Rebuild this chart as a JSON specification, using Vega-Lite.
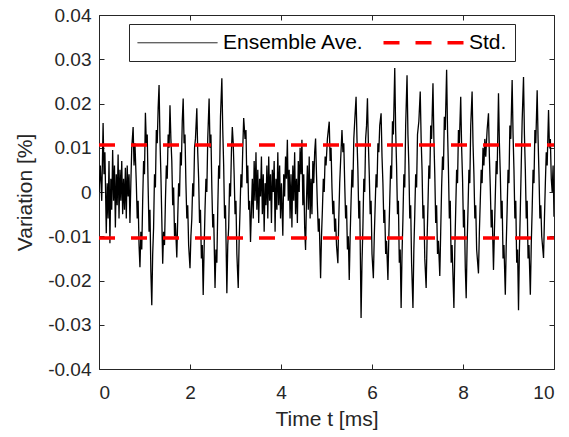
{
"$schema": "https://vega.github.io/schema/vega-lite/v6.json",
"width": 455, "height": 354,
"autosize": {"type": "none"},
"padding": {"left": 99, "top": 15, "right": 15, "bottom": 68},
"background": "white",
"config": {
  "font": "Liberation Sans",
  "view": {"stroke": null},
  "axis": {"grid": false, "labelFont": "Liberation Sans", "labelFontSize": 19, "labelColor": "#262626", "titleFont": "Liberation Sans", "titleFontSize": 21, "titleFontWeight": "normal", "titleColor": "#262626", "domainColor": "#262626", "tickColor": "#262626", "tickSize": -5, "domainWidth": 1, "tickWidth": 1}
},
"datasets": {
"ave": [
{"t":0.00,"v":0.000},{"t":0.03,"v":0.006},{"t":0.06,"v":-0.002},{"t":0.09,"v":0.0156},{"t":0.11,"v":0.004},{"t":0.13,"v":0.009},{"t":0.16,"v":-0.0093},{"t":0.18,"v":0.002},{"t":0.20,"v":-0.006},{"t":0.22,"v":0.007},{"t":0.24,"v":-0.0116},{"t":0.26,"v":0.003},{"t":0.28,"v":-0.004},{"t":0.30,"v":0.0095},{"t":0.32,"v":-0.002},{"t":0.34,"v":0.006},{"t":0.36,"v":-0.008},{"t":0.38,"v":0.004},{"t":0.40,"v":-0.003},{"t":0.42,"v":0.0085},{"t":0.44,"v":-0.006},{"t":0.46,"v":0.005},{"t":0.48,"v":-0.002},{"t":0.50,"v":0.007},{"t":0.52,"v":-0.005},{"t":0.54,"v":0.003},{"t":0.56,"v":-0.004},{"t":0.58,"v":0.0055},{"t":0.60,"v":-0.006},{"t":0.62,"v":0.006},{"t":0.64,"v":-0.001},{"t":0.66,"v":0.004},{"t":0.68,"v":-0.007},{"t":0.70,"v":0.002},{"t":0.72,"v":0.010},{"t":0.75,"v":0.0147},{"t":0.77,"v":0.006},{"t":0.79,"v":0.011},{"t":0.82,"v":0.002},{"t":0.84,"v":-0.006},{"t":0.86,"v":-0.002},{"t":0.88,"v":-0.012},{"t":0.90,"v":-0.017},{"t":0.92,"v":-0.009},{"t":0.94,"v":-0.013},{"t":0.96,"v":-0.002},{"t":0.98,"v":0.007},{"t":1.00,"v":0.004},{"t":1.02,"v":0.0179},{"t":1.04,"v":0.011},{"t":1.06,"v":0.013},{"t":1.08,"v":0.001},{"t":1.10,"v":-0.009},{"t":1.12,"v":-0.004},{"t":1.14,"v":-0.018},{"t":1.16,"v":-0.0256},{"t":1.18,"v":-0.014},{"t":1.20,"v":-0.008},{"t":1.22,"v":0.004},{"t":1.24,"v":0.001},{"t":1.26,"v":0.014},{"t":1.28,"v":0.011},{"t":1.30,"v":0.019},{"t":1.32,"v":0.0242},{"t":1.34,"v":0.012},{"t":1.36,"v":0.004},{"t":1.38,"v":-0.006},{"t":1.40,"v":-0.0162},{"t":1.42,"v":-0.009},{"t":1.44,"v":-0.012},{"t":1.46,"v":-0.002},{"t":1.48,"v":0.006},{"t":1.50,"v":0.003},{"t":1.52,"v":0.013},{"t":1.54,"v":0.010},{"t":1.56,"v":0.0196},{"t":1.58,"v":0.012},{"t":1.60,"v":0.007},{"t":1.62,"v":-0.003},{"t":1.64,"v":0.001},{"t":1.66,"v":-0.010},{"t":1.68,"v":-0.007},{"t":1.71,"v":-0.0148},{"t":1.73,"v":-0.006},{"t":1.75,"v":0.002},{"t":1.77,"v":-0.001},{"t":1.79,"v":0.009},{"t":1.81,"v":0.006},{"t":1.83,"v":0.016},{"t":1.85,"v":0.0211},{"t":1.87,"v":0.011},{"t":1.89,"v":0.013},{"t":1.91,"v":0.002},{"t":1.93,"v":-0.006},{"t":1.95,"v":-0.003},{"t":1.97,"v":-0.012},{"t":2.00,"v":-0.0172},{"t":2.02,"v":-0.010},{"t":2.04,"v":-0.006},{"t":2.06,"v":0.002},{"t":2.08,"v":-0.001},{"t":2.10,"v":0.010},{"t":2.12,"v":0.012},{"t":2.15,"v":0.0189},{"t":2.17,"v":0.009},{"t":2.19,"v":0.003},{"t":2.21,"v":-0.007},{"t":2.23,"v":-0.004},{"t":2.25,"v":-0.015},{"t":2.27,"v":-0.012},{"t":2.29,"v":-0.0233},{"t":2.31,"v":-0.013},{"t":2.33,"v":-0.004},{"t":2.35,"v":0.003},{"t":2.37,"v":0.000},{"t":2.39,"v":0.012},{"t":2.42,"v":0.0211},{"t":2.44,"v":0.010},{"t":2.46,"v":0.013},{"t":2.48,"v":0.001},{"t":2.50,"v":-0.008},{"t":2.52,"v":-0.005},{"t":2.55,"v":-0.0217},{"t":2.57,"v":-0.013},{"t":2.59,"v":-0.016},{"t":2.61,"v":-0.004},{"t":2.63,"v":0.006},{"t":2.65,"v":0.003},{"t":2.67,"v":0.017},{"t":2.70,"v":0.0257},{"t":2.72,"v":0.014},{"t":2.74,"v":0.006},{"t":2.76,"v":-0.006},{"t":2.78,"v":-0.003},{"t":2.81,"v":-0.0229},{"t":2.83,"v":-0.012},{"t":2.85,"v":-0.008},{"t":2.87,"v":0.002},{"t":2.89,"v":-0.001},{"t":2.91,"v":0.009},{"t":2.93,"v":0.0147},{"t":2.95,"v":0.011},{"t":2.97,"v":0.004},{"t":2.99,"v":-0.005},{"t":3.01,"v":-0.002},{"t":3.03,"v":-0.014},{"t":3.06,"v":-0.0217},{"t":3.08,"v":-0.011},{"t":3.10,"v":-0.004},{"t":3.12,"v":0.004},{"t":3.14,"v":0.001},{"t":3.16,"v":0.010},{"t":3.18,"v":0.0167},{"t":3.21,"v":0.012},{"t":3.23,"v":0.014},{"t":3.25,"v":0.002},{"t":3.27,"v":0.006},{"t":3.29,"v":-0.004},{"t":3.31,"v":-0.002},{"t":3.33,"v":-0.0113},{"t":3.35,"v":-0.004},{"t":3.37,"v":0.003},{"t":3.39,"v":-0.006},{"t":3.41,"v":0.007},{"t":3.43,"v":-0.002},{"t":3.45,"v":0.009},{"t":3.47,"v":-0.004},{"t":3.49,"v":0.005},{"t":3.51,"v":-0.007},{"t":3.53,"v":0.003},{"t":3.55,"v":-0.001},{"t":3.57,"v":0.008},{"t":3.59,"v":-0.005},{"t":3.61,"v":0.004},{"t":3.63,"v":-0.009},{"t":3.65,"v":0.002},{"t":3.67,"v":-0.003},{"t":3.69,"v":0.006},{"t":3.71,"v":-0.006},{"t":3.73,"v":0.008},{"t":3.75,"v":-0.002},{"t":3.77,"v":0.004},{"t":3.79,"v":-0.007},{"t":3.81,"v":0.005},{"t":3.83,"v":0.000},{"t":3.85,"v":0.007},{"t":3.87,"v":-0.009},{"t":3.89,"v":0.003},{"t":3.91,"v":-0.004},{"t":3.93,"v":0.009},{"t":3.95,"v":-0.003},{"t":3.97,"v":0.006},{"t":3.99,"v":-0.006},{"t":4.01,"v":0.002},{"t":4.04,"v":-0.0099},{"t":4.06,"v":0.004},{"t":4.08,"v":-0.001},{"t":4.10,"v":0.008},{"t":4.12,"v":0.003},{"t":4.14,"v":0.0118},{"t":4.16,"v":-0.002},{"t":4.18,"v":0.005},{"t":4.20,"v":-0.006},{"t":4.22,"v":0.004},{"t":4.24,"v":-0.008},{"t":4.26,"v":0.006},{"t":4.28,"v":-0.002},{"t":4.30,"v":0.009},{"t":4.32,"v":-0.005},{"t":4.34,"v":0.003},{"t":4.36,"v":-0.007},{"t":4.38,"v":0.007},{"t":4.40,"v":0.000},{"t":4.42,"v":0.010},{"t":4.44,"v":0.004},{"t":4.46,"v":0.0118},{"t":4.48,"v":-0.003},{"t":4.50,"v":0.004},{"t":4.52,"v":-0.008},{"t":4.54,"v":-0.0131},{"t":4.56,"v":-0.002},{"t":4.58,"v":0.006},{"t":4.60,"v":-0.004},{"t":4.62,"v":0.008},{"t":4.64,"v":-0.006},{"t":4.66,"v":0.003},{"t":4.68,"v":-0.005},{"t":4.70,"v":0.007},{"t":4.72,"v":0.002},{"t":4.74,"v":0.009},{"t":4.76,"v":0.0121},{"t":4.78,"v":0.004},{"t":4.80,"v":-0.003},{"t":4.82,"v":-0.009},{"t":4.84,"v":-0.006},{"t":4.87,"v":-0.0195},{"t":4.89,"v":-0.010},{"t":4.91,"v":-0.004},{"t":4.93,"v":0.003},{"t":4.95,"v":0.000},{"t":4.97,"v":0.008},{"t":4.99,"v":0.006},{"t":5.02,"v":0.012},{"t":5.06,"v":0.0159},{"t":5.08,"v":0.007},{"t":5.10,"v":0.010},{"t":5.12,"v":0.001},{"t":5.14,"v":-0.005},{"t":5.16,"v":-0.002},{"t":5.18,"v":-0.009},{"t":5.20,"v":-0.006},{"t":5.22,"v":-0.012},{"t":5.25,"v":-0.0161},{"t":5.27,"v":-0.006},{"t":5.29,"v":0.002},{"t":5.31,"v":0.007},{"t":5.34,"v":0.014},{"t":5.36,"v":0.009},{"t":5.38,"v":0.011},{"t":5.40,"v":0.002},{"t":5.42,"v":-0.006},{"t":5.44,"v":-0.003},{"t":5.46,"v":-0.013},{"t":5.48,"v":-0.010},{"t":5.50,"v":-0.0199},{"t":5.52,"v":-0.010},{"t":5.54,"v":-0.002},{"t":5.56,"v":0.005},{"t":5.58,"v":0.001},{"t":5.60,"v":0.012},{"t":5.62,"v":0.016},{"t":5.65,"v":0.0215},{"t":5.67,"v":0.012},{"t":5.69,"v":0.005},{"t":5.71,"v":-0.006},{"t":5.73,"v":-0.002},{"t":5.76,"v":-0.0285},{"t":5.78,"v":-0.016},{"t":5.80,"v":-0.008},{"t":5.82,"v":0.003},{"t":5.84,"v":0.000},{"t":5.86,"v":0.012},{"t":5.88,"v":0.015},{"t":5.90,"v":0.0212},{"t":5.92,"v":0.011},{"t":5.94,"v":0.004},{"t":5.96,"v":-0.005},{"t":5.98,"v":-0.002},{"t":6.00,"v":-0.014},{"t":6.03,"v":-0.0195},{"t":6.05,"v":-0.010},{"t":6.07,"v":-0.003},{"t":6.09,"v":0.004},{"t":6.11,"v":0.001},{"t":6.13,"v":0.011},{"t":6.15,"v":0.009},{"t":6.17,"v":0.015},{"t":6.20,"v":0.0178},{"t":6.22,"v":0.008},{"t":6.24,"v":0.002},{"t":6.26,"v":-0.007},{"t":6.28,"v":-0.004},{"t":6.30,"v":-0.014},{"t":6.32,"v":-0.011},{"t":6.35,"v":-0.0199},{"t":6.37,"v":-0.010},{"t":6.39,"v":-0.002},{"t":6.41,"v":0.006},{"t":6.43,"v":0.003},{"t":6.45,"v":0.016},{"t":6.47,"v":0.013},{"t":6.50,"v":0.028},{"t":6.52,"v":0.014},{"t":6.54,"v":0.006},{"t":6.56,"v":-0.005},{"t":6.58,"v":-0.002},{"t":6.60,"v":-0.016},{"t":6.62,"v":-0.013},{"t":6.64,"v":-0.0262},{"t":6.66,"v":-0.014},{"t":6.68,"v":-0.006},{"t":6.70,"v":0.004},{"t":6.72,"v":0.001},{"t":6.74,"v":0.015},{"t":6.77,"v":0.0264},{"t":6.79,"v":0.013},{"t":6.81,"v":0.006},{"t":6.83,"v":-0.006},{"t":6.85,"v":-0.003},{"t":6.87,"v":-0.016},{"t":6.90,"v":-0.0262},{"t":6.92,"v":-0.013},{"t":6.94,"v":-0.005},{"t":6.96,"v":0.004},{"t":6.98,"v":0.001},{"t":7.00,"v":0.013},{"t":7.03,"v":0.016},{"t":7.06,"v":0.0227},{"t":7.08,"v":0.012},{"t":7.10,"v":0.005},{"t":7.12,"v":-0.006},{"t":7.14,"v":-0.003},{"t":7.16,"v":-0.015},{"t":7.19,"v":-0.0217},{"t":7.21,"v":-0.011},{"t":7.23,"v":-0.003},{"t":7.25,"v":0.006},{"t":7.27,"v":0.003},{"t":7.29,"v":0.015},{"t":7.31,"v":0.012},{"t":7.34,"v":0.0246},{"t":7.36,"v":0.012},{"t":7.38,"v":0.004},{"t":7.40,"v":-0.007},{"t":7.42,"v":-0.003},{"t":7.44,"v":-0.014},{"t":7.46,"v":-0.011},{"t":7.49,"v":-0.0190},{"t":7.51,"v":-0.009},{"t":7.53,"v":0.001},{"t":7.55,"v":0.008},{"t":7.57,"v":0.005},{"t":7.59,"v":0.017},{"t":7.61,"v":0.014},{"t":7.64,"v":0.0276},{"t":7.66,"v":0.014},{"t":7.68,"v":0.005},{"t":7.70,"v":-0.006},{"t":7.72,"v":-0.002},{"t":7.74,"v":-0.016},{"t":7.76,"v":-0.012},{"t":7.80,"v":-0.0262},{"t":7.82,"v":-0.013},{"t":7.84,"v":-0.004},{"t":7.86,"v":0.005},{"t":7.88,"v":0.002},{"t":7.90,"v":0.014},{"t":7.92,"v":0.011},{"t":7.95,"v":0.0215},{"t":7.97,"v":0.010},{"t":7.99,"v":0.003},{"t":8.01,"v":-0.008},{"t":8.03,"v":-0.004},{"t":8.05,"v":-0.017},{"t":8.07,"v":-0.0240},{"t":8.09,"v":-0.012},{"t":8.11,"v":-0.004},{"t":8.13,"v":0.005},{"t":8.15,"v":0.002},{"t":8.17,"v":0.015},{"t":8.20,"v":0.0227},{"t":8.22,"v":0.011},{"t":8.24,"v":0.004},{"t":8.26,"v":-0.006},{"t":8.28,"v":-0.003},{"t":8.30,"v":-0.013},{"t":8.34,"v":-0.0184},{"t":8.36,"v":-0.009},{"t":8.38,"v":-0.002},{"t":8.40,"v":0.005},{"t":8.42,"v":0.002},{"t":8.44,"v":0.010},{"t":8.46,"v":0.006},{"t":8.48,"v":0.012},{"t":8.50,"v":0.008},{"t":8.53,"v":0.014},{"t":8.56,"v":0.0178},{"t":8.58,"v":0.008},{"t":8.60,"v":0.001},{"t":8.62,"v":-0.008},{"t":8.64,"v":-0.004},{"t":8.67,"v":-0.0176},{"t":8.69,"v":-0.009},{"t":8.71,"v":-0.001},{"t":8.73,"v":0.007},{"t":8.75,"v":0.004},{"t":8.78,"v":0.0223},{"t":8.80,"v":0.011},{"t":8.82,"v":0.004},{"t":8.84,"v":-0.006},{"t":8.86,"v":-0.002},{"t":8.88,"v":-0.015},{"t":8.90,"v":-0.012},{"t":8.93,"v":-0.0232},{"t":8.95,"v":-0.012},{"t":8.97,"v":-0.004},{"t":8.99,"v":0.005},{"t":9.01,"v":0.002},{"t":9.03,"v":0.015},{"t":9.05,"v":0.012},{"t":9.08,"v":0.0253},{"t":9.10,"v":0.013},{"t":9.12,"v":0.005},{"t":9.14,"v":-0.006},{"t":9.16,"v":-0.002},{"t":9.18,"v":-0.016},{"t":9.20,"v":-0.013},{"t":9.22,"v":-0.0267},{"t":9.24,"v":-0.013},{"t":9.26,"v":-0.004},{"t":9.28,"v":0.006},{"t":9.30,"v":0.016},{"t":9.33,"v":0.026},{"t":9.35,"v":0.013},{"t":9.37,"v":0.005},{"t":9.39,"v":-0.006},{"t":9.41,"v":-0.002},{"t":9.43,"v":-0.015},{"t":9.45,"v":-0.012},{"t":9.48,"v":-0.0232},{"t":9.50,"v":-0.012},{"t":9.52,"v":-0.004},{"t":9.54,"v":0.005},{"t":9.56,"v":0.002},{"t":9.58,"v":0.014},{"t":9.60,"v":0.011},{"t":9.63,"v":0.023},{"t":9.65,"v":0.012},{"t":9.67,"v":0.004},{"t":9.69,"v":-0.006},{"t":9.71,"v":-0.003},{"t":9.73,"v":-0.010},{"t":9.77,"v":-0.0149},{"t":9.79,"v":-0.006},{"t":9.81,"v":0.002},{"t":9.83,"v":0.009},{"t":9.85,"v":0.006},{"t":9.88,"v":0.0185},{"t":9.90,"v":0.010},{"t":9.92,"v":0.012},{"t":9.94,"v":0.003},{"t":9.96,"v":0.000},{"t":9.98,"v":0.006},{"t":10.00,"v":-0.0056}
],
"std": [
{"t":0,"v":0.0106,"g":"up"},{"t":10,"v":0.0106,"g":"up"},
{"t":0,"v":-0.0104,"g":"lo"},{"t":10,"v":-0.0104,"g":"lo"}
]
},
"layer": [
{
  "data": {"name": "ave"},
  "mark": {"type": "line", "strokeWidth": 1.3, "clip": true},
  "encoding": {
    "x": {"field": "t", "type": "quantitative", "scale": {"domain": [0, 10], "nice": false, "zero": false},
          "axis": {"orient": "bottom", "values": [0, 2, 4, 6, 8, 10], "title": "Time t [ms]", "labelPadding": 19, "titlePadding": 6}},
    "y": {"field": "v", "type": "quantitative", "scale": {"domain": [-0.04, 0.04], "nice": false},
          "axis": {"orient": "left", "values": [-0.04, -0.03, -0.02, -0.01, 0, 0.01, 0.02, 0.03, 0.04], "title": "Variation [%]", "labelPadding": 13, "titlePadding": 12,
                   "labelExpr": "abs(datum.value) < 1e-9 ? '0' : (datum.value < 0 ? '-' : '') + format(abs(datum.value), '.2f')"}},
    "color": {"datum": "Ensemble Ave.", "type": "nominal",
              "scale": {"domain": ["Ensemble Ave.", "Std."], "range": ["#000000", "#ff0000"]},
              "legend": {"orient": "none", "legendX": 30, "legendY": 9, "direction": "horizontal", "columns": 2, "title": null,
                         "symbolType": "stroke", "symbolSize": 6400, "symbolOffset": 30, "labelFontSize": 21, "labelFont": "Liberation Sans", "labelColor": "#000000",
                         "strokeColor": "#262626", "fillColor": "#ffffff", "padding": 8, "columnPadding": 12, "labelOffset": 35,
                         "encode": {"symbols": {"update": {"strokeWidth": {"signal": "datum.value === 'Std.' ? 3.5 : 1"}, "strokeDash": {"signal": "datum.value === 'Std.' ? [16,16] : [1,0]"}}}}}}
  }
},
{
  "data": {"name": "std"},
  "mark": {"type": "line", "strokeWidth": 3.5, "strokeDash": [16, 16]},
  "encoding": {
    "x": {"field": "t", "type": "quantitative", "axis": {"orient": "top", "values": [0, 2, 4, 6, 8, 10], "labels": false, "title": null}},
    "y": {"field": "v", "type": "quantitative", "axis": {"orient": "right", "values": [-0.04, -0.03, -0.02, -0.01, 0, 0.01, 0.02, 0.03, 0.04], "labels": false, "title": null}},
    "detail": {"field": "g"},
    "color": {"datum": "Std.", "type": "nominal"}
  }
}
],
"resolve": {"axis": {"x": "independent", "y": "independent"}}
}
